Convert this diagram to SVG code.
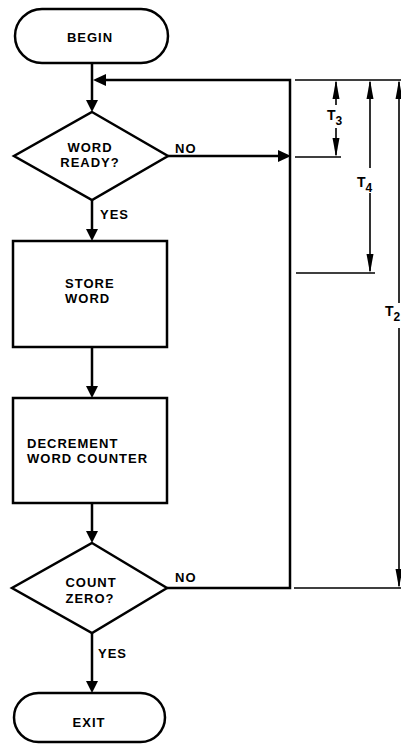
<svg xmlns="http://www.w3.org/2000/svg" width="401" height="744" viewBox="0 0 401 744">
<style>
.shape{fill:#fff;stroke:#000;stroke-width:2.5}
.flow{fill:none;stroke:#000;stroke-width:2.5}
.dim{fill:none;stroke:#000;stroke-width:1.6}
.head{fill:#000;stroke:none}
.lbl{font-family:"Liberation Sans",Arial,sans-serif;font-weight:bold;font-size:13px;letter-spacing:1px;fill:#000}
.mid{text-anchor:middle}
.tl{font-family:"Liberation Sans",Arial,sans-serif;font-weight:bold;font-size:14px;fill:#000}
</style>
<rect width="401" height="744" fill="#fff"/>
<g id="connectors">
<path class="flow" d="M92 63V102M92 200V231M92 347V388M92 503V533M92 633V683"/>
<path class="flow" d="M168 156H280M167 588H290V80H104"/>
<polygon class="head" points="92,112 86,100 98,100"/>
<polygon class="head" points="92,241 86,229 98,229"/>
<polygon class="head" points="92,398 86,386 98,386"/>
<polygon class="head" points="92,543 86,531 98,531"/>
<polygon class="head" points="92,693 86,681 98,681"/>
<polygon class="head" points="93,80 106,74 106,86"/>
<polygon class="head" points="291,156 278,150 278,162"/>
</g>
<g id="dimensions">
<path class="dim" d="M295 80H401M295 157H341M296 273H375M294 588H401"/>
<path class="dim" d="M336 82V105M336 128V155M370 82V168M370 193V271M399 82V303M399 328V586"/>
<polygon class="head" points="336,80 332.5,99 339.5,99"/>
<polygon class="head" points="336,157 332.5,138 339.5,138"/>
<polygon class="head" points="370,80 366.5,99 373.5,99"/>
<polygon class="head" points="370,273 366.5,254 373.5,254"/>
<polygon class="head" points="399,80 395.5,99 402.5,99"/>
<polygon class="head" points="399,588 395.5,569 402.5,569"/>
<text class="tl" x="327" y="120">T<tspan font-size="12" dy="5">3</tspan></text>
<text class="tl" x="357" y="187">T<tspan font-size="12" dy="5">4</tspan></text>
<text class="tl" x="385" y="316">T<tspan font-size="12" dy="5">2</tspan></text>
</g>
<g id="begin">
<rect class="shape" x="15" y="9" width="153" height="54" rx="27"/>
<text class="lbl mid" x="90" y="42">BEGIN</text>
</g>
<g id="word-ready">
<polygon class="shape" points="92,112 168,156 92,200 14,156"/>
<text class="lbl mid" x="90" y="152">WORD</text>
<text class="lbl mid" x="90" y="167">READY?</text>
<text class="lbl" x="175" y="153">NO</text>
<text class="lbl" x="100" y="219">YES</text>
</g>
<g id="store-word">
<rect class="shape" x="13" y="241" width="154" height="106"/>
<text class="lbl" x="65" y="288">STORE</text>
<text class="lbl" x="65" y="303">WORD</text>
</g>
<g id="decrement">
<rect class="shape" x="13" y="398" width="154" height="105"/>
<text class="lbl" x="27" y="448">DECREMENT</text>
<text class="lbl" x="27" y="463">WORD COUNTER</text>
</g>
<g id="count-zero">
<polygon class="shape" points="92,543 167,588 92,633 12,588"/>
<text class="lbl mid" x="91" y="587">COUNT</text>
<text class="lbl mid" x="90" y="603">ZERO?</text>
<text class="lbl" x="175" y="582">NO</text>
<text class="lbl" x="98" y="658">YES</text>
</g>
<g id="exit">
<rect class="shape" x="14" y="693" width="151" height="49" rx="24.5"/>
<text class="lbl mid" x="89" y="727">EXIT</text>
</g>
</svg>
